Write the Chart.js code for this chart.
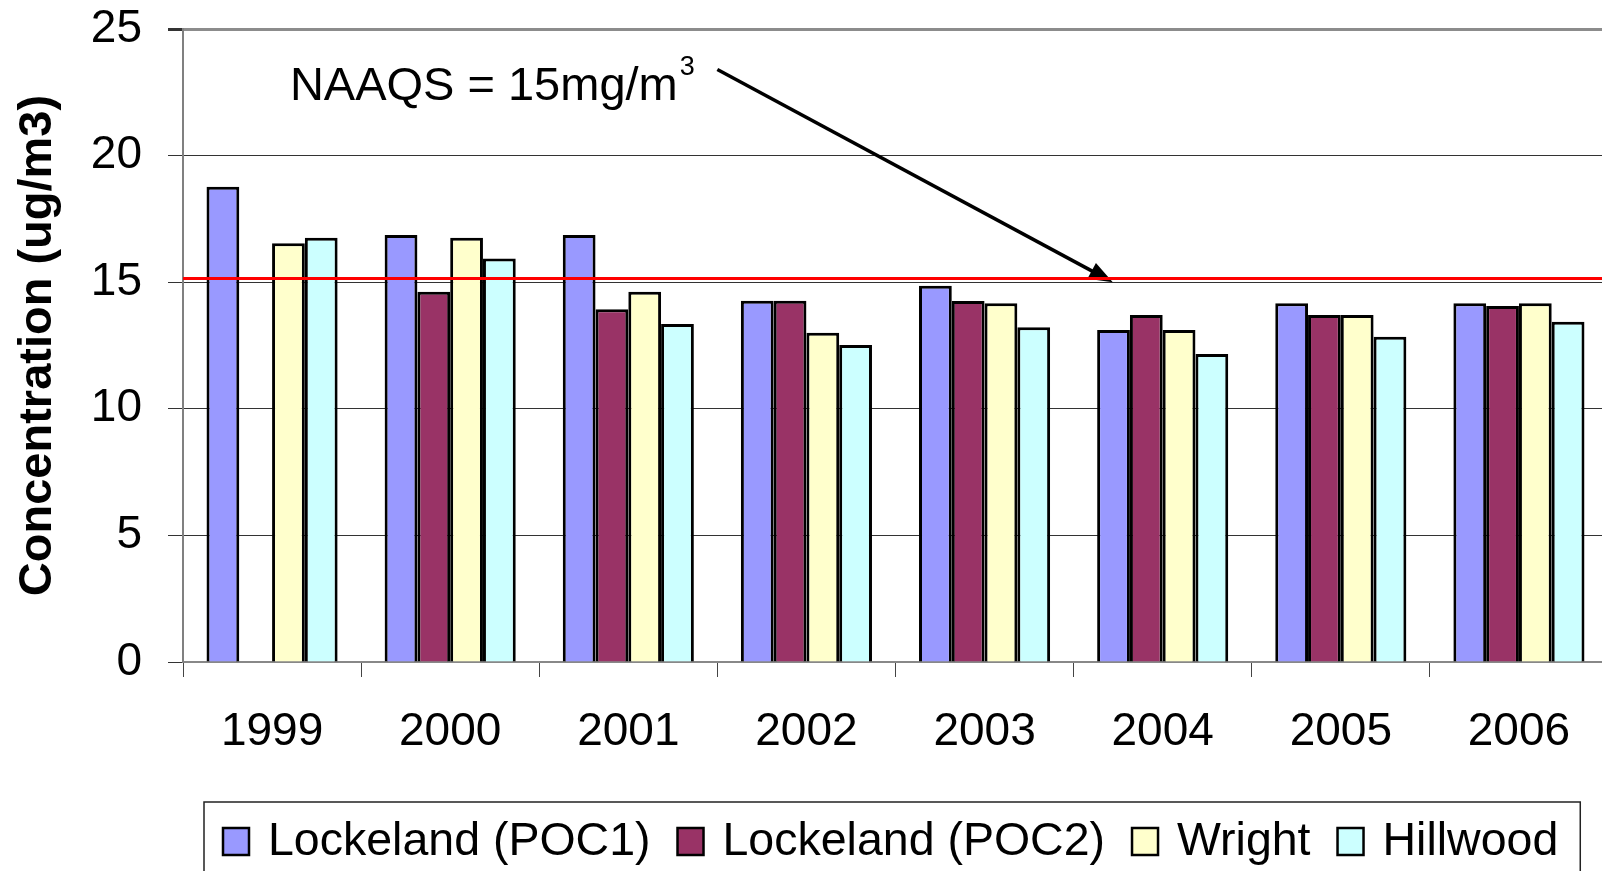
<!DOCTYPE html>
<html>
<head>
<meta charset="utf-8">
<title>PM2.5 annual concentration</title>
<script src="https://cdn.jsdelivr.net/npm/chart.js@4.4.1/dist/chart.umd.min.js"></script>
<style>
  html, body { margin: 0; padding: 0; background: #fff; overflow: hidden; }
  #wrap { width: 1608px; height: 871px; }
</style>
</head>
<body>
<div id="wrap"><canvas id="grafico" width="1608" height="871"></canvas></div>
<script>
// =====================================================
// DATOS
// =====================================================

const years = ["1999", "2000", "2001", "2002", "2003", "2004", "2005", "2006"];

const lockelandPoc1 = [18.77, 16.86, 16.86, 14.27, 14.86, 13.11, 14.17, 14.17];
const lockelandPoc2 = [null, 14.62, 13.93, 14.27, 14.26, 13.70, 13.70, 14.06];
const wright        = [16.54, 16.76, 14.62, 13.00, 14.17, 13.11, 13.70, 14.17];
const hillwood      = [16.76, 15.94, 13.35, 12.52, 13.22, 12.16, 12.85, 13.44];

const seriesLabels = ["Lockeland (POC1)", "Lockeland (POC2)", "Wright", "Hillwood"];
const seriesColors = ["#9999FF", "#993366", "#FFFFCC", "#CCFFFF"];

const yMin = 0;
const yMax = 25;
const yStep = 5;

const naaqs = 15.15;
const naaqsText = "NAAQS = 15mg/m";
const naaqsSup = "3";

const FONT = '"Liberation Sans", Arial, Helvetica, sans-serif';

// =====================================================
// ANOTACION NAAQS (linea roja + flecha + texto)
// =====================================================

const naaqsPlugin = {
  id: "naaqs",
  afterDatasetsDraw(chart) {
    const ctx = chart.ctx;
    const xs = chart.scales.x;
    const ys = chart.scales.y;
    const area = chart.chartArea;

    // flecha (en unidades de datos: indice de categoria, valor)
    const x0 = xs.getPixelForValue(2.5),  y0 = ys.getPixelForValue(23.4);
    const x1 = xs.getPixelForValue(4.72), y1 = ys.getPixelForValue(15.0);
    const ang = Math.atan2(y1 - y0, x1 - x0);
    const headLen = 24, headW = 9;

    ctx.save();
    ctx.strokeStyle = "#000";
    ctx.fillStyle = "#000";
    ctx.lineWidth = 3.5;
    ctx.beginPath();
    ctx.moveTo(x0, y0);
    ctx.lineTo(x1 - Math.cos(ang) * headLen * 0.8, y1 - Math.sin(ang) * headLen * 0.8);
    ctx.stroke();
    ctx.beginPath();
    ctx.moveTo(x1, y1);
    ctx.lineTo(x1 - Math.cos(ang) * headLen + Math.sin(ang) * headW,
               y1 - Math.sin(ang) * headLen - Math.cos(ang) * headW);
    ctx.lineTo(x1 - Math.cos(ang) * headLen - Math.sin(ang) * headW,
               y1 - Math.sin(ang) * headLen + Math.cos(ang) * headW);
    ctx.closePath();
    ctx.fill();

    // linea roja NAAQS
    const yr = ys.getPixelForValue(naaqs);
    ctx.strokeStyle = "#FF0000";
    ctx.lineWidth = 3;
    ctx.beginPath();
    ctx.moveTo(area.left, yr);
    ctx.lineTo(area.right, yr);
    ctx.stroke();

    // texto
    const tx = xs.getPixelForValue(0.1);
    const ty = ys.getPixelForValue(22.2);
    ctx.font = "47px " + FONT;
    ctx.textBaseline = "alphabetic";
    ctx.textAlign = "left";
    ctx.fillText(naaqsText, tx, ty);
    const w = ctx.measureText(naaqsText).width;
    ctx.font = "27px " + FONT;
    ctx.fillText(naaqsSup, tx + w + 2, ty - 25);
    ctx.restore();
  }
};

// =====================================================
// LEYENDA CON RECUADRO
// =====================================================

const legendPlugin = {
  id: "legendBox",
  afterDraw(chart) {
    const ctx = chart.ctx;
    const area = chart.chartArea;
    const sets = chart.data.datasets;

    const boxLeft = area.left + 21;
    const boxTop = area.bottom + 140;
    const baseY = boxTop + 53;
    let x = boxLeft + 19;

    ctx.save();
    ctx.font = "46.5px " + FONT;
    ctx.textBaseline = "alphabetic";
    ctx.textAlign = "left";

    sets.forEach((ds, i) => {
      ctx.fillStyle = ds.backgroundColor;
      ctx.fillRect(x, baseY - 27, 26, 27);
      ctx.strokeStyle = "#000";
      ctx.lineWidth = 2.5;
      ctx.strokeRect(x, baseY - 27, 26, 27);
      x += 45;
      ctx.fillStyle = "#000";
      ctx.fillText(ds.label, x, baseY);
      x += ctx.measureText(ds.label).width;
      if (i < sets.length - 1) x += 27;
    });

    x += 22;
    ctx.strokeStyle = "#222";
    ctx.lineWidth = 1.5;
    ctx.strokeRect(boxLeft, boxTop, x - boxLeft, 120);
    ctx.restore();
  }
};

// =====================================================
// GRAFICO
// =====================================================

const seriesData = [lockelandPoc1, lockelandPoc2, wright, hillwood];

const ctx = document.getElementById("grafico").getContext("2d");

new Chart(ctx, {
  type: "bar",
  data: {
    labels: years,
    datasets: seriesLabels.map((label, i) => ({
      label: label,
      data: seriesData[i],
      backgroundColor: seriesColors[i],
      borderColor: "#000",
      borderWidth: 3,
      barPercentage: 1.0,
      categoryPercentage: 0.736
    }))
  },
  options: {
    responsive: false,
    animation: false,
    devicePixelRatio: 1,
    layout: { autoPadding: false, padding: { top: 29, right: 0, bottom: 0, left: 0 } },
    plugins: {
      legend: { display: false },
      tooltip: { enabled: false }
    },
    scales: {
      x: {
        afterFit: s => { s.height = 209; s.paddingLeft = 0; s.paddingRight = 0; },
        grid: {
          offset: true,
          drawOnChartArea: false,
          drawTicks: true,
          tickLength: 15,
          color: "#444",
          lineWidth: 1
        },
        border: { color: "#888", width: 2 },
        ticks: {
          color: "#000",
          padding: 28,
          font: { family: FONT, size: 46 },
          maxRotation: 0,
          autoSkip: false
        }
      },
      y: {
        min: yMin,
        max: yMax,
        afterFit: s => { s.width = 183; s.paddingTop = 0; s.paddingBottom = 0; },
        grid: {
          color: c => (c.tick && c.tick.value === yMax ? "#8c8c8c" : "#333"),
          lineWidth: c => (c.tick && c.tick.value === yMax ? 3 : 1),
          tickColor: "#333",
          tickLength: 15,
          drawTicks: true
        },
        border: { color: "#808080", width: 2 },
        ticks: {
          stepSize: yStep,
          color: "#000",
          padding: 26,
          font: { family: FONT, size: 46 }
        },
        title: {
          display: true,
          text: "Concentration (ug/m3)",
          color: "#000",
          padding: { top: 10, bottom: 0 },
          font: { family: FONT, size: 47, weight: "bold" }
        }
      }
    }
  },
  plugins: [naaqsPlugin, legendPlugin]
});
</script>
</body>
</html>
